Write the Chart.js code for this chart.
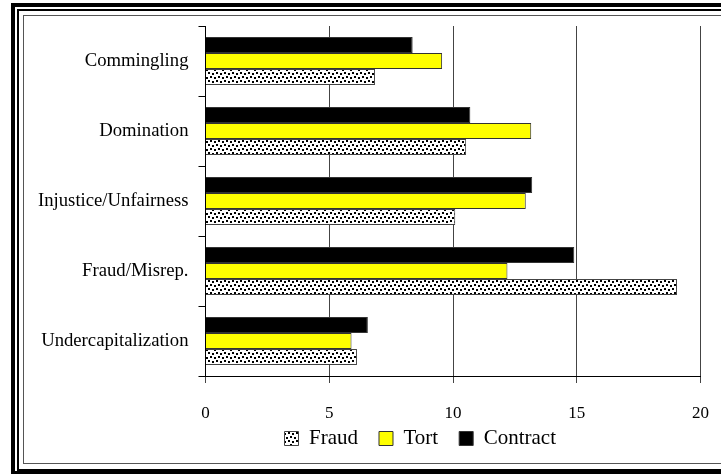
<!DOCTYPE html>
<html>
<head>
<meta charset="utf-8">
<script src="https://cdn.jsdelivr.net/npm/chart.js@4.4.1/dist/chart.umd.min.js"></script>
<style>
  body { margin: 0; background: #fff; overflow: hidden; }
  #wrap { position: relative; width: 721px; height: 474px; overflow: hidden; }
  canvas { position: absolute; left: 0; top: 0; }
  .frame { position: absolute; box-sizing: border-box; width: 800px; pointer-events: none; }
  .f1 { left: 11px; top: 3px; height: 472px; border: 4px solid #000; }
  .f2 { left: 17px; top: 9px; height: 462px; border: 2px solid #000; }
  .f3 { left: 23px; top: 15px; height: 449px; border: 1px solid #555; }
</style>
</head>
<body>
<div id="wrap">
  <canvas id="chart" width="721" height="474"></canvas>
  <div class="frame f1"></div>
  <div class="frame f2"></div>
  <div class="frame f3"></div>
</div>
<script>
const categories = ['Commingling', 'Domination', 'Injustice/Unfairness', 'Fraud/Misrep.', 'Undercapitalization'];
const contractValues = [8.37, 10.7, 13.2, 14.9, 6.56];
const tortValues = [9.56, 13.16, 12.94, 12.2, 5.9];
const fraudValues = [6.85, 10.53, 10.09, 19.05, 6.12];

const serif = "'Liberation Serif', 'Times New Roman', serif";

// confetti-like fill for the Fraud series
function makePattern() {
  const c = document.createElement('canvas');
  c.width = 8;
  c.height = 8;
  const g = c.getContext('2d');
  g.fillStyle = '#fff';
  g.fillRect(0, 0, 8, 8);
  g.fillStyle = '#000';
  g.fillRect(0, 0, 2, 2);
  g.fillRect(4, 1, 2, 2);
  g.fillRect(2, 4, 2, 2);
  g.fillRect(6, 5, 2, 2);
  return g.createPattern(c, 'repeat');
}

// move the legend to where the original sits (under the plot, a bit higher)
const legendShift = {
  id: 'legendShift',
  afterLayout(chart) {
    const lg = chart.legend;
    lg.left += 70;
    lg.right += 70;
    lg.top -= 15;
    lg.bottom -= 15;
  },
};

const ctx = document.getElementById('chart').getContext('2d');
const fraudFill = makePattern();

new Chart(ctx, {
  type: 'bar',
  data: {
    labels: categories,
    datasets: [
      { label: 'Contract', data: contractValues, backgroundColor: '#000', borderColor: '#333', borderWidth: 1 },
      { label: 'Tort', data: tortValues, backgroundColor: '#ffff00', borderColor: '#333', borderWidth: 1 },
      { label: 'Fraud', data: fraudValues, backgroundColor: fraudFill, borderColor: '#444', borderWidth: 1 },
    ],
  },
  plugins: [legendShift],
  options: {
    indexAxis: 'y',
    responsive: false,
    animation: false,
    datasets: {
      bar: { barPercentage: 1, categoryPercentage: 0.686 },
    },
    layout: {
      padding: { left: 0, right: 20.5, top: 26, bottom: 0 },
    },
    scales: {
      x: {
        min: 0,
        max: 20,
        ticks: { stepSize: 5, color: '#000', padding: 20.5, font: { family: serif, size: 17 } },
        grid: { color: '#444', lineWidth: 1, tickLength: 7, drawTicks: true },
        border: { display: true, color: '#000', width: 1 },
        afterFit: (scale) => {
          scale.height = 46;
          scale.paddingLeft = 0;
          scale.paddingRight = 0;
        },
      },
      y: {
        ticks: { color: '#000', padding: 10, font: { family: serif, size: 18.7 } },
        grid: { drawOnChartArea: false, color: '#000', tickLength: 7 },
        border: { display: true, color: '#000', width: 1 },
        afterFit: (scale) => { scale.width = 205.5; },
      },
    },
    plugins: {
      legend: {
        position: 'bottom',
        reverse: true,
        labels: {
          color: '#000',
          boxWidth: 14,
          boxHeight: 14,
          padding: 21,
          font: { family: serif, size: 21 },
        },
      },
      tooltip: { enabled: false },
    },
  },
});
</script>
</body>
</html>
